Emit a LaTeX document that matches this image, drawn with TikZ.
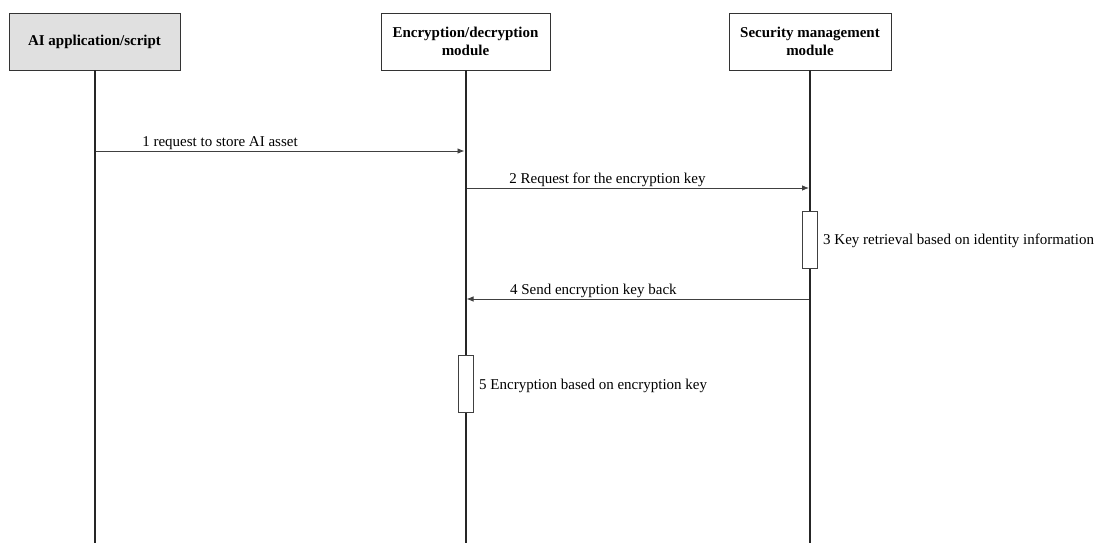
\documentclass[tikz,border=0pt]{standalone}
\usepackage{fontspec}
\setmainfont{Liberation Serif}
\usetikzlibrary{arrows.meta}
\begin{document}
\begin{tikzpicture}[x=1pt,y=-1pt,
  actor/.style={draw=black!80,line width=0.8pt,minimum height=57pt,align=center,
    font=\fontsize{15}{18.5}\selectfont\bfseries,inner sep=2pt},
  lifeline/.style={draw=black!85,line width=2pt},
  msg/.style={draw=black!75,line width=0.8pt,-{Latex[length=7pt,width=5.5pt]}},
  lbl/.style={font=\fontsize{15}{17}\selectfont,inner sep=1pt},
  act/.style={draw=black!75,fill=white,line width=0.8pt,minimum width=15pt,inner sep=0pt}]
\useasboundingbox (0,0) rectangle (1101,543);
% participants
\node[actor,fill=black!12,minimum width=171pt] (app) at (94.5,41.5) {AI application/script};
\node[actor,minimum width=169pt] (enc) at (465.5,41.5) {Encryption/decryption\\module};
\node[actor,minimum width=162pt] (sec) at (810,41.5) {Security management\\module};
% lifelines
\coordinate (appEnd) at (94.5,543);
\coordinate (encEnd) at (465.5,543);
\coordinate (secEnd) at (810,543);
\draw[lifeline] (app.south) -- (appEnd);
\draw[lifeline] (enc.south) -- (encEnd);
\draw[lifeline] (sec.south) -- (secEnd);
% message anchors
\coordinate (m1a) at (95.5,151); \coordinate (m1b) at (464.5,151);
\coordinate (m2a) at (466.5,188); \coordinate (m2b) at (809,188);
\coordinate (m4a) at (809,299); \coordinate (m4b) at (466.5,299);
% messages
\draw[msg] (m1a) -- node[lbl,anchor=south west,pos=0.123] {1 request to store AI asset} (m1b);
\draw[msg] (m2a) -- node[lbl,anchor=south west,pos=0.121] {2 Request for the encryption key} (m2b);
\draw[msg] (m4a) -- node[lbl,anchor=south west,pos=0.877] {4 Send encryption key back} (m4b);
% activations
\node[act,minimum height=57pt] (a3) at (810,239.5) {};
\node[lbl,anchor=west] (t3) at (822,241) {3 Key retrieval based on identity information};
\node[act,minimum height=57pt] (a5) at (465.5,383.5) {};
\node[lbl,anchor=west] (t5) at (478,386) {5 Encryption based on encryption key};
\end{tikzpicture}
\end{document}
